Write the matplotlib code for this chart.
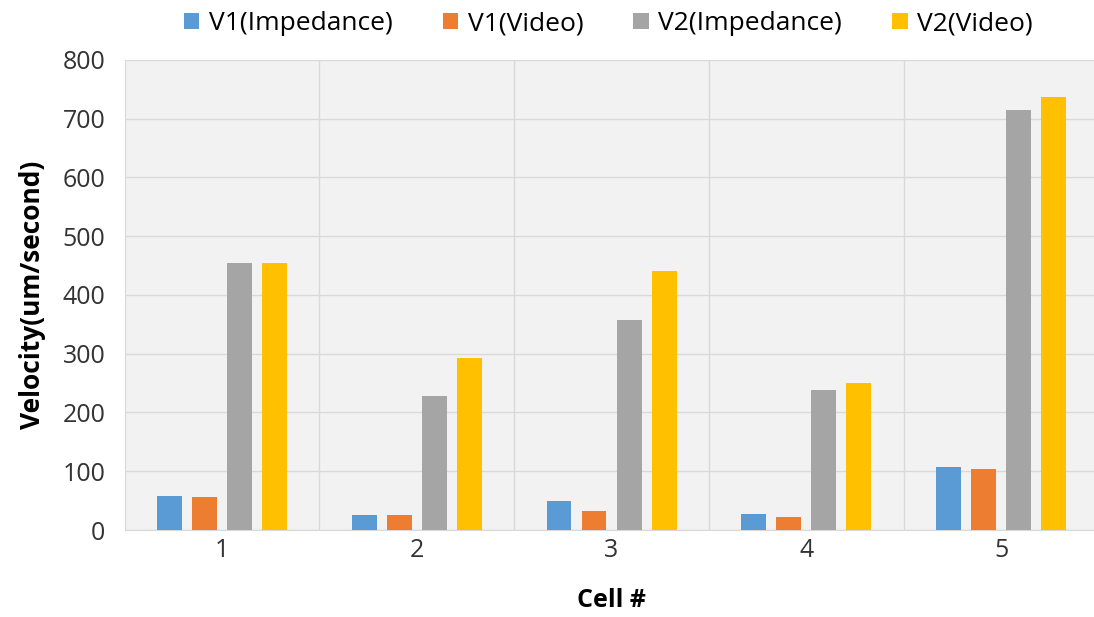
import numpy as np
import matplotlib
matplotlib.use("Agg")
import matplotlib.pyplot as plt

plt.rcParams['font.family'] = ['Open Sans', 'DejaVu Sans']

cells = ["1", "2", "3", "4", "5"]
v1_impedance = [58, 25, 50, 27, 108]
v1_video = [56, 25, 32, 22, 103]
v2_impedance = [455, 228, 357, 238, 715]
v2_video = [455, 292, 440, 250, 736]

series = [
    ("V1(Impedance)", v1_impedance, "#5b9bd5"),
    ("V1(Video)", v1_video, "#ed7d31"),
    ("V2(Impedance)", v2_impedance, "#a5a5a5"),
    ("V2(Video)", v2_video, "#ffc000"),
]

fig = plt.figure(figsize=(10.94, 6.17), dpi=100)
ax = fig.add_axes([0.114, 0.141, 0.89, 0.762])
ax.set_facecolor("#f2f2f2")

x = np.arange(len(cells))
width = 0.128
step = 0.18
for i, (name, vals, color) in enumerate(series):
    ax.bar(x + (i - 1.5) * step, vals, width, color=color, label=name, zorder=3)

ax.set_xlim(-0.5, len(cells) - 0.5)
ax.set_ylim(0, 800)
ax.set_yticks(range(0, 801, 100))
ax.set_xticks(x)
ax.set_xticklabels(cells)
ax.grid(axis="y", color="#d9d9d9", linewidth=1, zorder=0)
for b in np.arange(0.5, len(cells) - 0.5, 1):
    ax.axvline(b, color="#d9d9d9", linewidth=1, zorder=0)
for s in ax.spines.values():
    s.set_visible(False)
ax.spines["left"].set_visible(True)
ax.spines["left"].set_color("#d9d9d9")
ax.spines["bottom"].set_visible(True)
ax.spines["bottom"].set_color("#d9d9d9")
ax.tick_params(axis="y", length=0, labelsize=18, colors="#333333", pad=14)
ax.tick_params(axis="x", length=0, labelsize=18, colors="#333333", pad=6)

ax.set_ylabel("Velocity(um/second)", fontsize=19, fontweight="bold", labelpad=12)
ax.set_xlabel("Cell #", fontsize=18, fontweight="bold", labelpad=18)

fig.legend(loc="upper center", bbox_to_anchor=(0.556, 1.02), ncol=4, frameon=False,
           fontsize=19, handlelength=0.6, handleheight=0.6, handletextpad=0.35,
           columnspacing=1.9)

fig.savefig("out.png", dpi=100)
